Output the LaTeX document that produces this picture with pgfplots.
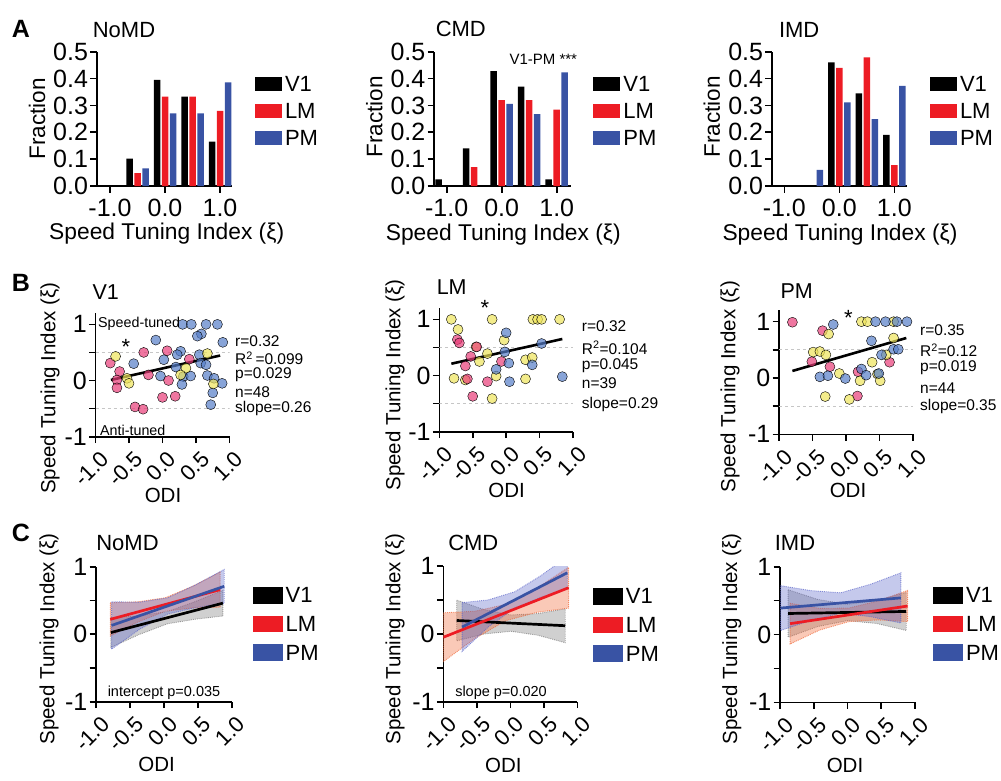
\documentclass[border=0pt]{standalone}
\usepackage{fontspec}
\setmainfont{Liberation Sans}
\usepackage{pgfplots}
\pgfplotsset{compat=1.18}

\definecolor{lmred}{RGB}{237,28,36}
\definecolor{pmblue}{RGB}{57,83,164}
\definecolor{scpink}{RGB}{232,60,120}
\definecolor{scyellow}{RGB}{238,228,90}
\definecolor{scblue}{RGB}{85,125,200}
\definecolor{lmband}{RGB}{240,100,50}
\definecolor{pmband}{RGB}{90,100,200}
\definecolor{v1band}{RGB}{120,120,120}

\newcommand\fs[1]{\fontsize{#1}{#1}\selectfont}

\pgfplotsset{
  prism/.style={
    scale only axis, anchor=south west,
    axis lines=left, axis line style={-, line width=1.6pt},
    tick align=outside, major tick length=6.5pt,
    every tick/.style={black, line width=1.6pt},
    tick label style={font=\fs{25}},
    yticklabel style={inner sep=2pt},
    legend style={draw=none, fill=none, anchor=north west, inner sep=0pt, outer sep=0pt,
      row sep=12pt, font=\fs{22},
      nodes={inner sep=0pt, text height=15pt, text depth=0pt}},
    legend image code/.code={\fill[##1] (0pt,-7pt) rectangle (27pt,7pt); \path (30pt,0pt);},
    legend cell align=left,
  },
  histo/.style={prism, ymin=0, ymax=0.5, height=134.3pt,
    ytick={0,0.1,0.2,0.3,0.4,0.5}, yticklabels={0.0,0.1,0.2,0.3,0.4,0.5},
    xtick={-1,0,1}, xticklabels={-1.0,0.0,1.0}, xticklabel shift=3pt},
  odi/.style={prism, xmin=-1, xmax=1,
    xtick={-1,-0.5,0,0.5,1}, xticklabels={-1.0,-0.5,0.0,0.5,1.0},
    ytick={-1,-0.5,0,0.5,1}, yticklabels={-1,,0,,1},
    xticklabel shift=5pt,
    xticklabel style={xshift=4pt, rotate=45, anchor=north east, inner sep=1pt, font=\fs{22}}},
  bar/.style={ybar, bar width=6.5pt, draw=none},
  dots/.style={only marks, mark=*, mark size=5pt, mark options={draw=none, fill=#1, fill opacity=0.7}},
  fit/.style={black, line width=2.6pt},
  half/.style={gray!45, dashed, line width=0.9pt},
  band/.style={fill=#1, fill opacity=0.35, draw=#1, draw opacity=0.7, densely dotted, line width=0.9pt, forget plot},
  cline/.style={#1, line width=2.7pt},
}

\begin{document}
\begin{tikzpicture}
\useasboundingbox (0,0) rectangle (1001pt,-780pt);

% ---------------- A: histograms ----------------
\begin{axis}[histo, at={(96.7pt,-186pt)}, width=135.3pt, xmin=-1.242, xmax=1.218,
  legend style={at={(1.17,0.819)}}]
\addplot[bar, bar shift=-8pt, fill=black] coordinates {(-0.5,0.102) (0,0.395) (0.5,0.333) (1,0.165)};
\addplot[bar, bar shift=0pt, fill=lmred] coordinates {(-0.5,0.048) (0,0.333) (0.5,0.333) (1,0.28)};
\addplot[bar, bar shift=8pt, fill=pmblue] coordinates {(-0.5,0.066) (0,0.27) (0.5,0.27) (1,0.386)};
\legend{V1,LM,PM}
\end{axis}

\begin{axis}[histo, at={(434pt,-186pt)}, width=136.7pt, xmin=-1.231, xmax=1.254,
  legend style={at={(1.166,0.819)}}]
\addplot[bar, bar shift=-8pt, fill=black] coordinates {(-1,0.025) (-0.5,0.14) (0,0.428) (0.5,0.37) (1,0.025)};
\addplot[bar, bar shift=0pt, fill=lmred] coordinates {(-0.5,0.07) (0,0.32) (0.5,0.32) (1,0.284)};
\addplot[bar, bar shift=8pt, fill=pmblue] coordinates {(0,0.306) (0.5,0.268) (1,0.423)};
\legend{V1,LM,PM}
\end{axis}

\begin{axis}[histo, at={(771.7pt,-186pt)}, width=135.3pt, xmin=-1.229, xmax=1.231,
  legend style={at={(1.17,0.819)}}]
\addplot[bar, bar shift=-8pt, fill=black] coordinates {(0,0.46) (0.5,0.345) (1,0.19)};
\addplot[bar, bar shift=0pt, fill=lmred] coordinates {(0,0.44) (0.5,0.479) (1,0.078)};
\addplot[bar, bar shift=8pt, fill=pmblue] coordinates {(-0.5,0.06) (0,0.311) (0.5,0.249) (1,0.373)};
\legend{V1,LM,PM}
\end{axis}

% ---------------- B: scatter ----------------
\begin{axis}[odi, at={(95.5pt,-436.7pt)}, width=134pt, height=123.6pt, ymin=-1, ymax=1.2]
\addplot[half] coordinates {(-1,0.5) (1,0.5)};
\addplot[half] coordinates {(-1,-0.5) (1,-0.5)};
\addplot[dots=scblue] coordinates {(0.30,1.0) (0.43,1.0) (0.65,1.0) (0.82,1.0) (0.58,0.83) (0.52,0.79)
 (-0.10,0.72) (0.90,0.68) (0.27,0.52) (0.22,0.46) (-0.43,0.30) (0.02,0.37) (0.20,0.24) (0.55,0.46)
 (0.57,0.31) (-0.03,0.08) (0.31,0.07) (0.42,0.08) (0.67,0.09) (0.77,0.04) (0.89,-0.05) (0.29,-0.07)
 (0.75,-0.22) (0.72,-0.43) (0.65,0.28)};
\addplot[dots=scpink] coordinates {(-0.78,0.31) (-0.64,0.16) (-0.68,0.01) (-0.68,-0.13) (-0.28,0.50)
 (0.07,0.53) (-0.21,0.10) (0.09,0.00) (0.40,0.38) (0.00,-0.30) (0.19,-0.28) (-0.41,-0.47) (-0.29,-0.51)};
\addplot[dots=scyellow] coordinates {(-0.70,0.43) (-0.53,0.04) (-0.50,-0.05) (0.35,0.22) (0.27,0.10)
 (0.67,0.48) (0.76,-0.06)};
\addplot[fit] coordinates {(-0.77,0.01) (0.86,0.445)};
\end{axis}

\begin{axis}[odi, at={(439.3pt,-431.7pt)}, width=133.7pt, height=123.6pt, ymin=-1, ymax=1.2]
\addplot[half] coordinates {(-1,0.5) (1,0.5)};
\addplot[half] coordinates {(-1,-0.5) (1,-0.5)};
\addplot[dots=scyellow] coordinates {(-0.82,1.0) (-0.72,0.82) (-0.21,1.0) (0.40,1.0) (0.47,1.0) (0.53,1.0)
 (0.80,1.0) (-0.45,0.51) (-0.03,0.63) (-0.28,0.39) (-0.40,0.25) (-0.78,-0.05) (-0.61,-0.08) (-0.15,-0.01)
 (0.29,0.28) (0.39,0.32) (0.29,-0.06) (-0.21,-0.41)};
\addplot[dots=scpink] coordinates {(-0.73,0.64) (-0.70,0.58) (-0.44,0.51) (-0.53,0.34) (-0.61,0.17)
 (-0.58,-0.06) (-0.07,0.25) (-0.28,-0.11) (-0.50,-0.37)};
\addplot[dots=scblue] coordinates {(0.00,0.76) (-0.02,0.42) (0.04,0.22) (-0.15,0.11) (0.05,-0.11)
 (0.39,0.19) (0.53,0.57) (0.84,-0.02)};
\addplot[fit] coordinates {(-0.82,0.21) (0.84,0.65)};
\end{axis}

\begin{axis}[odi, at={(779pt,-434.3pt)}, width=134pt, height=123.9pt, ymin=-1, ymax=1.2]
\addplot[half] coordinates {(-1,0.5) (1,0.5)};
\addplot[half] coordinates {(-1,-0.5) (1,-0.5)};
\addplot[dots=scpink] coordinates {(-0.80,0.99) (-0.35,0.84) (-0.51,0.29) (-0.24,0.20) (0.18,0.11)
 (0.17,-0.32) (0.65,0.28)};
\addplot[dots=scyellow] coordinates {(-0.26,0.78) (-0.49,0.46) (-0.39,0.47) (-0.30,0.41) (-0.10,0.08)
 (-0.31,-0.33) (0.05,-0.38) (0.23,1.0) (0.32,1.0) (0.71,1.0) (0.71,0.71) (0.39,0.28) (0.60,0.41)
 (0.21,-0.05) (0.47,0.07) (0.51,-0.05)};
\addplot[dots=scblue] coordinates {(-0.19,0.95) (0.44,1.0) (0.59,1.0) (0.76,1.0) (0.91,1.0) (0.38,0.66)
 (0.53,0.41) (0.71,0.51) (0.78,0.51) (-0.39,0.02) (-0.27,0.04) (-0.01,-0.01) (0.23,0.16) (0.30,0.05)
 (0.49,0.08)};
\addplot[fit] coordinates {(-0.80,0.125) (0.90,0.71)};
\end{axis}

% ---------------- C: regression lines ----------------
\begin{axis}[odi, at={(96pt,-701.7pt)}, width=135.7pt, height=135pt, ymin=-1, ymax=1,
  legend style={at={(1.157,0.85)}}]
\addplot[band=v1band] coordinates {(-0.78,0.245) (-0.37,0.273) (0.05,0.334) (0.46,0.482) (0.87,0.65)
 (0.87,0.27) (0.46,0.222) (0.05,0.154) (-0.37,-0.007) (-0.78,-0.195)} -- cycle;
\addplot[band=lmband] coordinates {(-0.79,0.465) (-0.385,0.48) (0.02,0.54) (0.425,0.71) (0.83,0.92)
 (0.83,0.40) (0.425,0.39) (0.02,0.34) (-0.385,0.18) (-0.79,-0.025)} -- cycle;
\addplot[band=pmband] coordinates {(-0.77,0.48) (-0.355,0.475) (0.06,0.54) (0.475,0.735) (0.89,0.96)
 (0.89,0.46) (0.475,0.395) (0.06,0.30) (-0.355,0.075) (-0.77,-0.22)} -- cycle;
\addplot[cline=black] coordinates {(-0.78,0.025) (0.87,0.46)};
\addplot[cline=lmred] coordinates {(-0.79,0.22) (0.83,0.66)};
\addplot[cline=pmblue] coordinates {(-0.77,0.13) (0.89,0.71)};
\legend{V1,LM,PM}
\end{axis}

\begin{axis}[odi, at={(443.3pt,-701.7pt)}, width=134pt, height=135.7pt, ymin=-1, ymax=1,
  legend style={at={(1.119,0.838)}}]
\addplot[band=v1band] coordinates {(-0.8,0.497) (-0.395,0.358) (0.01,0.278) (0.415,0.299) (0.82,0.37)
 (0.82,-0.13) (0.415,-0.021) (0.01,0.038) (-0.395,-0.002) (-0.8,-0.103)} -- cycle;
\addplot[band=lmband] coordinates {(-1.0,0.31) (-0.53,0.333) (-0.065,0.435) (0.40,0.678) (0.87,0.98)
 (0.87,0.38) (0.40,0.318) (-0.065,0.195) (-0.53,-0.067) (-1.0,-0.41)} -- cycle;
\addplot[band=pmband] coordinates {(-0.72,0.46) (-0.33,0.50) (0.065,0.62) (0.46,0.86) (0.85,1.14)
 (0.85,0.66) (0.46,0.54) (0.065,0.38) (-0.33,0.10) (-0.72,-0.26)} -- cycle;
\addplot[cline=black] coordinates {(-0.80,0.197) (0.82,0.12)};
\addplot[cline=lmred] coordinates {(-1.0,-0.05) (0.87,0.68)};
\addplot[cline=pmblue] coordinates {(-0.72,0.10) (0.85,0.90)};
\legend{V1,LM,PM}
\end{axis}

\begin{axis}[odi, at={(780pt,-702.3pt)}, width=135pt, height=135.6pt, ymin=-1, ymax=1,
  legend style={at={(1.136,0.85)}}]
\addplot[band=v1band] coordinates {(-0.88,0.66) (-0.4425,0.5175) (-0.005,0.445) (0.4325,0.5025) (0.87,0.62)
 (0.87,0.06) (0.4325,0.1625) (-0.005,0.205) (-0.4425,0.1175) (-0.88,-0.04)} -- cycle;
\addplot[band=lmband] coordinates {(-0.85,0.46) (-0.415,0.385) (0.02,0.39) (0.455,0.495) (0.89,0.65)
 (0.89,0.19) (0.455,0.215) (0.02,0.19) (-0.415,0.065) (-0.85,-0.14)} -- cycle;
\addplot[band=pmband] coordinates {(-0.99,0.72) (-0.545,0.6475) (-0.1,0.615) (0.345,0.7425) (0.79,0.91)
 (0.79,0.17) (0.345,0.2625) (-0.1,0.315) (-0.545,0.2075) (-0.99,0.06)} -- cycle;
\addplot[cline=black] coordinates {(-0.88,0.31) (0.87,0.34)};
\addplot[cline=lmred] coordinates {(-0.85,0.16) (0.89,0.42)};
\addplot[cline=pmblue] coordinates {(-0.99,0.39) (0.79,0.54)};
\legend{V1,LM,PM}
\end{axis}

% ---------------- text ----------------
\begin{scope}[every node/.style={inner sep=0pt}]
\node[font=\fs{25}\bfseries] at (21pt,-28.7pt) {A};
\node[font=\fs{25}\bfseries] at (20.8pt,-282.5pt) {B};
\node[font=\fs{25}\bfseries] at (20.8pt,-532.5pt) {C};

\node[font=\fs{22}] at (124pt,-29.7pt) {NoMD};
\node[font=\fs{22}] at (460.8pt,-29.3pt) {CMD};
\node[font=\fs{22}] at (799.2pt,-30pt) {IMD};
\node[font=\fs{15}] at (543.3pt,-59.3pt) {V1-PM ***};

\foreach \x/\y in {37/119, 374.3/116.7, 711.7/116.7}
  \node[font=\fs{22.5}, rotate=90] at (\x pt,-\y pt) {Fraction};
\foreach \x/\y in {166.7/233.3, 503.3/235, 840/235}
  \node[font=\fs{22.8}] at (\x pt,-\y pt) {Speed Tuning Index (ξ)};

\node[font=\fs{21.5}] at (105.8pt,-292.5pt) {V1};
\node[font=\fs{21.5}] at (451.7pt,-286.7pt) {LM};
\node[font=\fs{21.5}] at (796.7pt,-290.7pt) {PM};
\foreach \x/\y in {50/388.3, 395/385, 730/386.7, 49/639, 395/639, 731.7/639}
  \node[font=\fs{20.5}, rotate=90] at (\x pt,-\y pt) {Speed Tuning Index (ξ)};
\foreach \x/\y in {163/495, 506.7/490, 848/490, 156.7/764, 503.3/765, 845/765}
  \node[font=\fs{20.5}] at (\x pt,-\y pt) {ODI};

\foreach \x/\y in {126/347, 485/308.3, 848.3/318.3}
  \node[font=\fs{22}] at (\x pt,-\y pt) {*};

\node[font=\fs{14.3}, anchor=west] at (98pt,-324pt) {Speed-tuned};
\node[font=\fs{14.3}, anchor=west] at (100pt,-430.7pt) {Anti-tuned};

\begin{scope}[every node/.append style={font=\fs{15.5}, anchor=west}]
\node at (235pt,-341pt) {r=0.32};
\node at (235pt,-358pt) {R\textsuperscript{2}\,=0.099};
\node at (235pt,-375pt) {p=0.029};
\node at (235pt,-392pt) {n=48};
\node at (235pt,-408pt) {slope=0.26};
\node at (581.7pt,-326pt) {r=0.32};
\node at (581.7pt,-347.7pt) {R\textsuperscript{2}=0.104};
\node at (581.7pt,-365.3pt) {p=0.045};
\node at (581.7pt,-382.7pt) {n=39};
\node at (581.7pt,-404pt) {slope=0.29};
\node at (920pt,-330pt) {r=0.35};
\node at (920pt,-350pt) {R\textsuperscript{2}=0.12};
\node at (920pt,-367.3pt) {p=0.019};
\node at (920pt,-387.7pt) {n=44};
\node at (920pt,-406.7pt) {slope=0.35};
\end{scope}

\node[font=\fs{22}] at (127.5pt,-543.3pt) {NoMD};
\node[font=\fs{22}] at (473.3pt,-543.3pt) {CMD};
\node[font=\fs{22}] at (795pt,-543.3pt) {IMD};
\node[font=\fs{14.5}] at (164pt,-692.7pt) {intercept p=0.035};
\node[font=\fs{14.5}] at (501pt,-692.7pt) {slope p=0.020};
\end{scope}
\end{tikzpicture}
\end{document}
